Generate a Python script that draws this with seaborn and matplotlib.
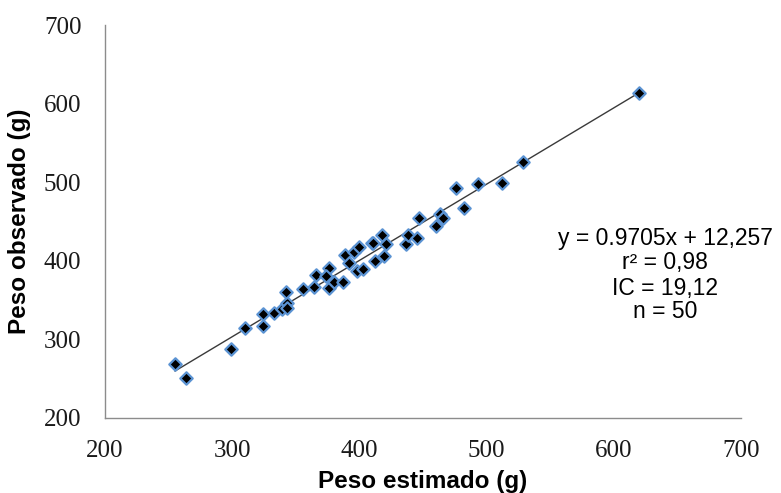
import numpy as np
import pandas as pd
import seaborn as sns
import matplotlib.pyplot as plt

# ---- data ----
peso_estimado = [255, 264, 299, 310, 324, 324, 333, 339, 343, 343,
                 342, 356, 364, 376, 366, 376, 374, 380, 387, 389,
                 392, 396, 400, 398, 403, 410, 411, 418, 421, 412,
                 419, 437, 438, 445, 460, 447, 463, 466, 476, 482,
                 493, 512, 529, 620]
peso_observado = [269, 251, 288, 315, 317, 332, 334, 339, 346, 340,
                  360, 364, 367, 365, 382, 391, 381, 373, 373, 407,
                  397, 411, 418, 387, 390, 423, 423, 433, 421, 400,
                  406, 421, 433, 429, 444, 455, 460, 455, 493, 467,
                  498, 499, 526, 614]
slope = 0.9705
intercept = 12.257
x_ticks = [200, 300, 400, 500, 600, 700]
y_ticks = [200, 300, 400, 500, 600, 700]
annotation_lines = ["y = 0.9705x + 12,257", "r\u00b2 = 0,98", "IC = 19,12", "n = 50"]
x_label = "Peso estimado (g)"
y_label = "Peso observado (g)"

df = pd.DataFrame({"est": peso_estimado, "obs": peso_observado})
fit_x = np.array([min(peso_estimado), max(peso_estimado)])
fit = pd.DataFrame({"est": fit_x, "obs": slope * fit_x + intercept})

sns.set_theme(style="white")
plt.rcParams['font.family'] = ['Liberation Sans', 'DejaVu Sans']

W, H = 781, 493
fig = plt.figure(figsize=(W / 100, H / 100), dpi=100)
left, right, top, bottom = 105, 741, 25, 418
ax = fig.add_axes([left / W, 1 - bottom / H, (right - left) / W, (bottom - top) / H])

sns.lineplot(data=fit, x="est", y="obs", ax=ax, color="#3a3a3a", linewidth=1.0)
sns.scatterplot(data=df, x="est", y="obs", ax=ax, marker="D", s=40,
                color="black", edgecolor="#5b93d3", linewidth=1.6, zorder=3)

ax.set_xlim(x_ticks[0], x_ticks[-1])
ax.set_ylim(y_ticks[0], y_ticks[-1])
ax.set_xticks(x_ticks)
ax.set_yticks(y_ticks)

tick_font = dict(family=["Liberation Serif", "DejaVu Serif"], size=18)
ax.set_xticklabels([str(t) for t in x_ticks], fontdict=tick_font, color="#1a1a1a")
ax.set_yticklabels([str(t) for t in y_ticks], fontdict=tick_font, color="#1a1a1a")

for s in ["top", "right"]:
    ax.spines[s].set_visible(False)
for s in ["left", "bottom"]:
    ax.spines[s].set_color("#8c8c8c")
    ax.spines[s].set_linewidth(1.0)
ax.tick_params(axis="both", direction="out", length=7, width=1.0, color="#8c8c8c")
ax.tick_params(axis="y", pad=10)
ax.tick_params(axis="x", pad=9)

ax.set_xlabel(x_label, fontsize=17.5, fontweight="bold", color="black")
ax.set_ylabel(y_label, fontsize=17.5, fontweight="bold", color="black")
ax.xaxis.set_label_coords(0.5, -0.132)
ax.yaxis.set_label_coords(-0.117, 0.5)

line_centers = [239, 263, 288, 312]
for txt, yc in zip(annotation_lines, line_centers):
    fig.text(665 / W, 1 - yc / H, txt, ha="center", va="center",
             fontsize=16.5, color="black")

fig.savefig("out.png", dpi=100)
